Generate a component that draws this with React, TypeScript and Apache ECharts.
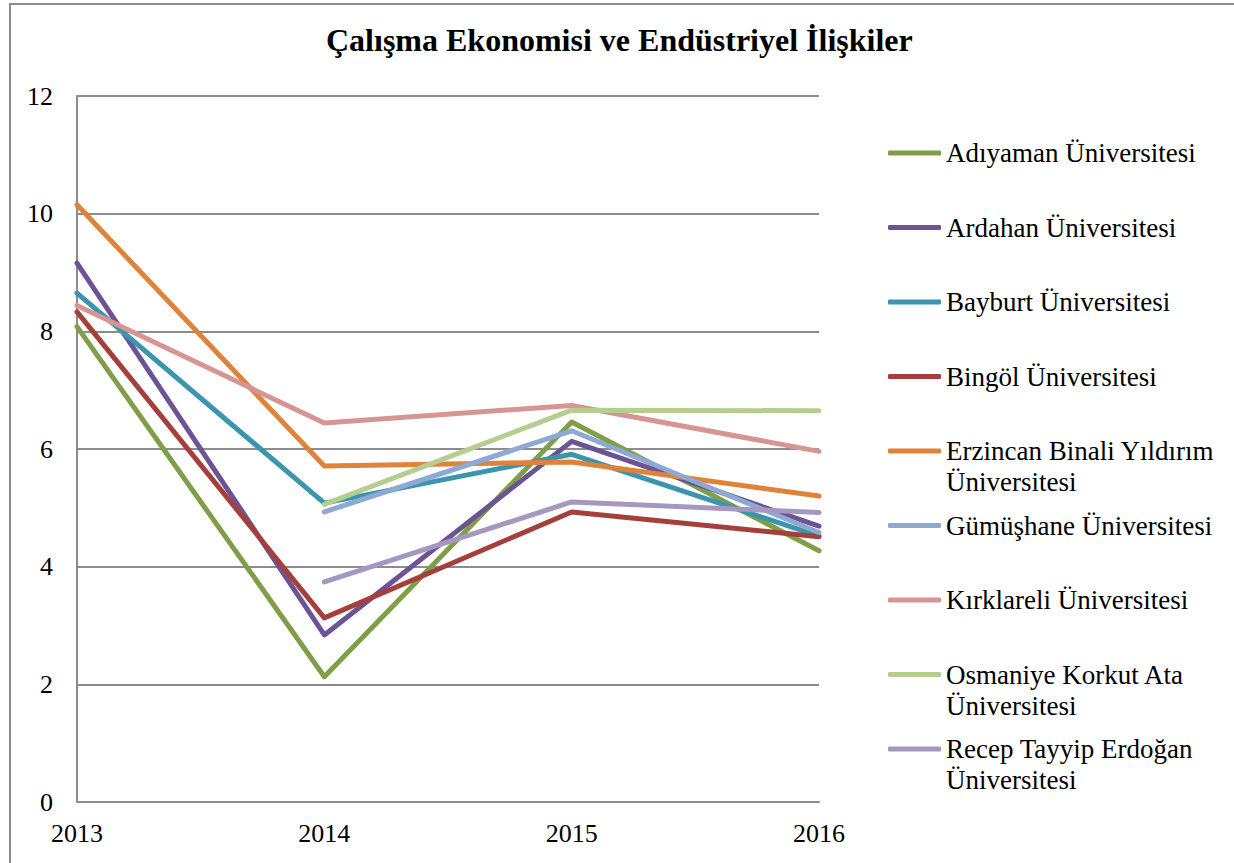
import React, { useEffect, useRef } from "react";
import * as echarts from "echarts";

const years = ["2013", "2014", "2015", "2016"];
const seriesNames = [
  "Adıyaman Üniversitesi",
  "Ardahan Üniversitesi",
  "Bayburt Üniversitesi",
  "Bingöl Üniversitesi",
  "Erzincan Binali Yıldırım Üniversitesi",
  "Gümüşhane Üniversitesi",
  "Kırklareli Üniversitesi",
  "Osmaniye Korkut Ata Üniversitesi",
  "Recep Tayyip Erdoğan Üniversitesi",
];
const legendLabels = [
  "Adıyaman Üniversitesi",
  "Ardahan Üniversitesi",
  "Bayburt Üniversitesi",
  "Bingöl Üniversitesi",
  "Erzincan Binali Yıldırım\nÜniversitesi",
  "Gümüşhane Üniversitesi",
  "Kırklareli Üniversitesi",
  "Osmaniye Korkut Ata\nÜniversitesi",
  "Recep Tayyip Erdoğan\nÜniversitesi",
];
const adiyaman = [8.08, 2.13, 6.46, 4.27];
const ardahan = [9.16, 2.84, 6.13, 4.69];
const bayburt = [8.65, 5.08, 5.91, 4.52];
const bingol = [8.33, 3.13, 4.93, 4.51];
const erzincan = [10.15, 5.71, 5.78, 5.2];
const gumushane = [null, 4.93, 6.31, 4.58];
const kirklareli = [8.44, 6.44, 6.74, 5.96];
const osmaniye = [null, 5.06, 6.66, 6.65];
const recep = [null, 3.74, 5.1, 4.92];
const allValues = [adiyaman, ardahan, bayburt, bingol, erzincan, gumushane, kirklareli, osmaniye, recep];
const colors = [
  "#7E9F47",
  "#6B5394",
  "#3B95AE",
  "#A53F3B",
  "#E0833A",
  "#8FA9D5",
  "#D69593",
  "#B5CD8F",
  "#A597C0",
];
const yTicks = { min: 0, max: 12, interval: 2 };

const FONT = "Liberation Serif";

export default function App() {
  const ref = useRef<HTMLDivElement>(null);
  useEffect(() => {
    if (!ref.current) return;
    const chart = echarts.init(ref.current, undefined, { renderer: "svg" });
    const lineH = 31;
    const firstY0 = 153;
    const stepY = 74.5;
    const legends = seriesNames.map((name, i) => {
      const twoLine = legendLabels[i].includes("\n");
      const cy = firstY0 + stepY * i;
      const label = twoLine ? " \n" + legendLabels[i] : legendLabels[i];
      return {
        data: [name],
        orient: "vertical",
        left: 888,
        top: twoLine ? cy - lineH * 1.5 : cy - lineH / 2,
        padding: 0,
        icon: "roundRect",
        itemWidth: 53,
        itemHeight: 5,
        selectedMode: false,
        formatter: () => label,
        textStyle: {
          fontFamily: FONT,
          fontSize: 27,
          lineHeight: lineH,
          color: "#000",
        },
      };
    });
    chart.setOption({
      animation: false,
      backgroundColor: "#fff",
      title: {
        text: "Çalışma Ekonomisi ve Endüstriyel İlişkiler",
        left: 326,
        top: 24,
        padding: 0,
        textStyle: { fontFamily: FONT, fontWeight: "bold", fontSize: 32, color: "#000" },
      },
      graphic: [
        {
          type: "rect",
          shape: { x: 10, y: 4, width: 1240, height: 880 },
          style: { fill: "none", stroke: "#8c8c8c", lineWidth: 2 },
          silent: true,
        },
      ],
      legend: legends,
      grid: { left: 77, right: 415, top: 96, bottom: 61, containLabel: false },
      xAxis: {
        type: "category",
        data: years,
        boundaryGap: false,
        axisLine: { show: true, lineStyle: { color: "#8c8c8c", width: 2 } },
        axisTick: { show: false },
        axisLabel: { fontFamily: FONT, fontSize: 26, color: "#000", margin: 18 },
        splitLine: { show: false },
      },
      yAxis: {
        type: "value",
        min: yTicks.min,
        max: yTicks.max,
        interval: yTicks.interval,
        axisLine: { show: true, lineStyle: { color: "#8c8c8c", width: 2 } },
        axisTick: { show: false },
        axisLabel: { fontFamily: FONT, fontSize: 26, color: "#000", margin: 24 },
        splitLine: { show: true, lineStyle: { color: "#8c8c8c", width: 2 } },
      },
      series: seriesNames.map((name, i) => ({
        name,
        type: "line",
        data: allValues[i],
        symbol: "none",
        showSymbol: false,
        connectNulls: false,
        color: colors[i],
        lineStyle: { width: 5, color: colors[i], cap: "round", join: "round" },
        emphasis: { disabled: true },
      })),
    });
    return () => chart.dispose();
  }, []);
  return (
    <div
      ref={ref}
      style={{ position: "fixed", left: 0, top: 0, width: 1234, height: 863, background: "#fff" }}
    />
  );
}
